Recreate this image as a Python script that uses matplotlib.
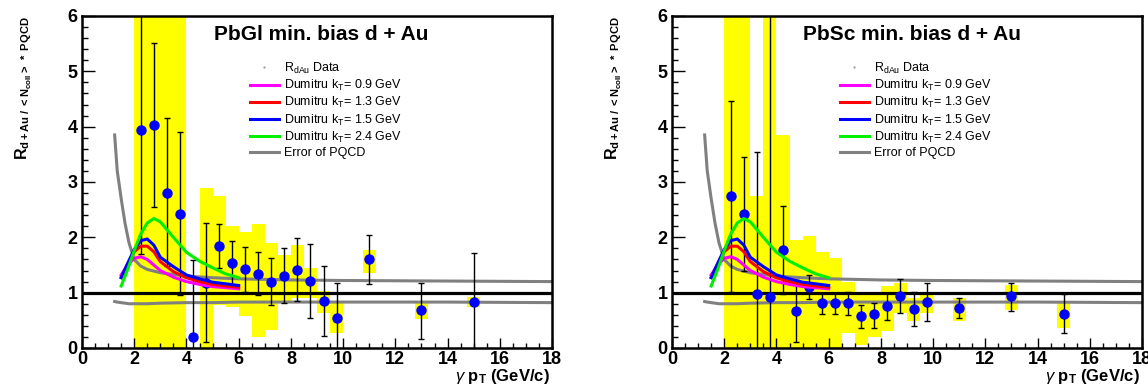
import numpy as np
import matplotlib
matplotlib.use("Agg")
import matplotlib.pyplot as plt
from matplotlib.lines import Line2D
from matplotlib.ticker import MultipleLocator

plt.rcParams["font.family"] = ["Liberation Sans", "DejaVu Sans"]
plt.rcParams["mathtext.fontset"] = "custom"
plt.rcParams["mathtext.rm"] = "Liberation Sans"
plt.rcParams["mathtext.it"] = "Liberation Sans:italic"
plt.rcParams["mathtext.bf"] = "Liberation Sans:bold"

# photon pT bin centres (GeV/c)
pt_bins = [2.25, 2.75, 3.25, 3.75, 4.25, 4.75, 5.25, 5.75, 6.25, 6.75,
           7.25, 7.75, 8.25, 8.75, 9.25, 9.75, 11.0, 13.0, 15.0]

# PbGl data
pbgl_y = [3.94, 4.03, 2.81, 2.43, 0.20, 1.18, 1.84, 1.54, 1.42, 1.34,
          1.20, 1.31, 1.41, 1.21, 0.85, 0.55, 1.60, 0.69, 0.83]
pbgl_err_hi = [6.18, 5.51, 4.15, 3.91, 1.59, 2.26, 2.24, 1.94, 1.82, 1.73,
               1.63, 1.80, 1.98, 1.88, 1.49, 1.17, 2.05, 1.18, 1.72]
pbgl_err_lo = [1.70, 2.55, 1.48, 0.95, -1.19, 0.10, 1.45, 1.14, 1.02, 0.95,
               0.78, 0.82, 0.85, 0.54, 0.22, -0.07, 1.16, 0.16, -0.06]
pbgl_sys_lo = [0.0, 0.0, 0.0, 0.0, np.nan, 0.0, 0.77, 0.74, 0.58, 0.20,
               0.33, 0.81, 0.90, 0.90, 0.64, 0.27, 1.36, 0.52, 0.74]
pbgl_sys_hi = [6.5, 6.5, 6.5, 6.5, np.nan, 2.89, 2.74, 2.21, 2.10, 2.24,
               1.89, 1.68, 1.86, 1.45, 1.03, 0.81, 1.78, 0.81, 0.92]

# PbSc data
pbsc_y = [2.74, 2.42, 0.98, 0.92, 1.77, 0.67, 1.10, 0.82, 0.81, 0.81,
          0.58, 0.61, 0.76, 0.94, 0.71, 0.84, 0.72, 0.94, 0.61]
pbsc_err_hi = [4.47, 3.45, 3.54, 6.5, 2.56, 1.23, 1.32, 0.99, 0.99, 1.02,
               0.78, 0.81, 1.00, 1.24, 1.02, 1.17, 0.90, 1.17, 0.97]
pbsc_err_lo = [1.01, 1.39, -1.58, -4.0, 0.98, 0.10, 0.88, 0.61, 0.61, 0.60,
               0.37, 0.37, 0.51, 0.63, 0.39, 0.48, 0.54, 0.67, 0.27]
pbsc_sys_lo = [0.0, 0.0, 0.0, 0.0, 0.0, 0.0, 0.0, 0.0, 0.0, 0.27,
               0.05, 0.20, 0.30, 0.64, 0.48, 0.64, 0.49, 0.69, 0.37]
pbsc_sys_hi = [6.5, 6.5, 2.74, 6.5, 3.85, 1.95, 2.03, 1.74, 1.62, 1.20,
               0.95, 0.96, 1.12, 1.17, 0.90, 0.97, 0.90, 1.14, 0.81]

# Dumitru calculations
curve_x = [1.5, 1.75, 2.0, 2.25, 2.5, 2.75, 3.0, 3.5, 4.0, 4.5, 5.0, 5.5, 6.0]
kt09 = [1.32, 1.50, 1.62, 1.65, 1.60, 1.50, 1.40, 1.28, 1.20, 1.15, 1.11, 1.09, 1.07]
kt13 = [1.28, 1.52, 1.74, 1.84, 1.84, 1.74, 1.56, 1.38, 1.27, 1.20, 1.15, 1.12, 1.10]
kt15 = [1.27, 1.53, 1.78, 1.94, 1.97, 1.86, 1.64, 1.47, 1.32, 1.25, 1.19, 1.16, 1.13]
kt24 = [1.12, 1.42, 1.76, 2.06, 2.26, 2.34, 2.28, 2.00, 1.73, 1.57, 1.45, 1.34, 1.27]

# PQCD error band
pqcd_x = [1.25, 1.35, 1.5, 1.65, 1.8, 2.0, 2.25, 2.5, 3.0, 4.0, 5.0, 6.0, 8.0, 10.0, 14.0, 18.0]
pqcd_hi = [3.85, 3.20, 2.70, 2.25, 1.90, 1.60, 1.48, 1.42, 1.36, 1.30, 1.27, 1.25, 1.23, 1.22, 1.21, 1.20]
pqcd_lo = [0.84, 0.83, 0.82, 0.81, 0.80, 0.80, 0.80, 0.80, 0.81, 0.82, 0.82, 0.83, 0.83, 0.83, 0.83, 0.82]

panels = [
    ("PbGl min. bias d + Au", pbgl_y, pbgl_err_lo, pbgl_err_hi, pbgl_sys_lo, pbgl_sys_hi),
    ("PbSc min. bias d + Au", pbsc_y, pbsc_err_lo, pbsc_err_hi, pbsc_sys_lo, pbsc_sys_hi),
]
curves = [
    (kt09, "#ff00ff", r"Dumitru k$_\mathrm{T}$= 0.9 GeV"),
    (kt13, "#ff0000", r"Dumitru k$_\mathrm{T}$= 1.3 GeV"),
    (kt15, "#0000ff", r"Dumitru k$_\mathrm{T}$= 1.5 GeV"),
    (kt24, "#00ee00", r"Dumitru k$_\mathrm{T}$= 2.4 GeV"),
]

fig = plt.figure(figsize=(11.48, 3.87), dpi=100)
lefts = [82 / 1148, 672 / 1148]

for left, (title, y, lo, hi, slo, shi) in zip(lefts, panels):
    ax = fig.add_axes([left, 1 - 348 / 387, 470 / 1148, 332 / 387])
    x = np.array(pt_bins)
    y = np.array(y)
    slo = np.array(slo)
    shi = np.array(shi)

    ax.bar(x, shi - slo, bottom=slo, width=0.5, color="#ffff00", linewidth=0, zorder=1)
    ax.axhline(1.0, color="black", lw=2.3, zorder=3)
    ax.plot(pqcd_x, pqcd_hi, color="#808080", lw=2.2, zorder=3)
    ax.plot(pqcd_x, pqcd_lo, color="#808080", lw=2.2, zorder=3)
    yerr = [y - np.array(lo), np.array(hi) - y]
    ax.errorbar(x, y, yerr=yerr, fmt="none", ecolor="black", elinewidth=1.0,
                capsize=2.2, capthick=1.0, zorder=4)
    ax.plot(x, y, "o", color="#0000ff", markersize=6.5, zorder=5)
    for vals, col, lab in curves:
        ax.plot(curve_x, vals, color=col, lw=2.2, zorder=6)

    ax.set_xlim(0, 18)
    ax.set_ylim(0, 6)
    ax.xaxis.set_major_locator(MultipleLocator(2))
    ax.xaxis.set_minor_locator(MultipleLocator(0.5))
    ax.yaxis.set_major_locator(MultipleLocator(1))
    ax.yaxis.set_minor_locator(MultipleLocator(0.2))
    ax.tick_params(axis="both", which="both", direction="in", top=False, right=False,
                   labelsize=13, width=1.0)
    ax.tick_params(axis="x", which="major", length=7, pad=2.5)
    ax.tick_params(axis="x", which="minor", length=3.5)
    ax.tick_params(axis="y", which="major", length=9, pad=3)
    ax.tick_params(axis="y", which="minor", length=4.5)
    for lab in ax.get_xticklabels() + ax.get_yticklabels():
        lab.set_fontweight("bold")
    for sp in ax.spines.values():
        sp.set_linewidth(1.8)
        sp.set_zorder(10)

    ax.text(0.51, 0.943, title, transform=ax.transAxes, ha="center", va="center",
            fontsize=15, fontweight="bold")
    ax.text(0.995, -0.099, r"$\gamma$ $\mathbf{p_T}$ (GeV/c)", transform=ax.transAxes,
            ha="right", va="baseline", fontsize=12, fontweight="bold")
    ax.text(-0.125, 1.0, r"$\mathbf{R_{d+Au\ /\ <N_{coll}>\ *\ PQCD}}$",
            transform=ax.transAxes, rotation=90, ha="center", va="top", fontsize=11.5)

    handles = [Line2D([], [], ls="none", marker=".", markersize=1, color="#888888")]
    labels = [r"R$_\mathrm{dAu}$ Data"]
    for vals, col, lab in curves:
        handles.append(Line2D([], [], color=col, lw=2.2))
        labels.append(lab)
    handles.append(Line2D([], [], color="#808080", lw=2.2))
    labels.append("Error of PQCD")
    ax.legend(handles, labels, loc="upper left", bbox_to_anchor=(0.357, 0.865),
              frameon=False, fontsize=9, handlelength=2.3, handletextpad=0.45,
              labelspacing=0.17, borderaxespad=0, borderpad=0)

fig.savefig("out.png", dpi=100)
